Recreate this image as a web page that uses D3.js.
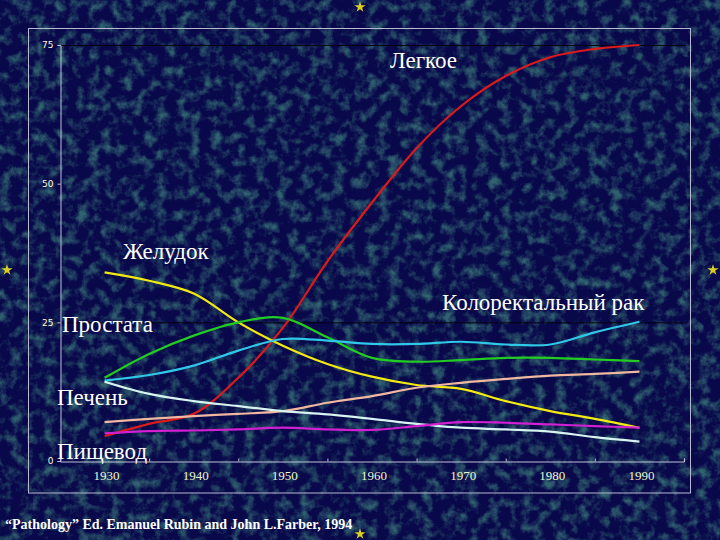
<!DOCTYPE html>
<html>
<head>
<meta charset="utf-8">
<script src="https://cdn.jsdelivr.net/npm/d3@7"></script>
<style>
html,body{margin:0;padding:0;background:#0a0a48;}
svg{display:block;}
</style>
</head>
<body>
<svg id="chart" width="720" height="540"></svg>
<script>
// ---- data ----
const years = [1930,1935,1940,1945,1950,1955,1960,1965,1970,1975,1980,1985,1990];
const tickYears = [1930,1940,1950,1960,1970,1980,1990];
const yTicks = [0,25,50,75];
const lung      = [4.5,6.7,8.5,15,24,36,46.6,56.4,64,69.4,72.8,74.3,75];
const stomach   = [34,32.5,30.2,25,20.8,17.5,15.2,13.7,13,10.8,9,7.6,6];
const prostate  = [15,19.3,22.6,25,25.8,22.3,18.6,17.9,18.2,18.6,18.6,18.3,18];
const colorectal= [14.5,15.5,17.2,19.9,22,21.7,21.1,21.1,21.5,21,21,23.2,25.1];
const pancreas  = [7,7.6,8.1,8.5,9,10.5,11.7,13.2,14.1,14.8,15.4,15.7,16.1];
const liver     = [14.3,12.1,10.8,9.9,9,8.4,7.6,6.7,6,5.7,5.3,4.3,3.5];
const esophagus = [5,5.4,5.5,5.7,6,5.7,5.6,6.3,7,6.9,6.6,6.3,6];
const seriesNames = ["Легкое","Желудок","Простата","Колоректальный рак","Поджелудочная","Печень","Пищевод"];
const seriesData  = [lung,stomach,prostate,colorectal,pancreas,liver,esophagus];
const seriesColors= ["#dd1a1a","#f2ea10","#22cc22","#30c8e8","#f0b8a0","#d8f4f0","#d020d0"];
const labels = [
  {text:"Легкое", x:390, y:68},
  {text:"Желудок", x:123, y:259},
  {text:"Колоректальный рак", x:442, y:310},
  {text:"Простата", x:62, y:332},
  {text:"Печень", x:57, y:405},
  {text:"Пищевод", x:57, y:459}
];
const footnote = "“Pathology” Ed. Emanuel Rubin and John L.Farber, 1994";

// ---- drawing ----
const svg = d3.select("#chart");
const defs = svg.append("defs");
const f = defs.append("filter").attr("id","tex").attr("x",0).attr("y",0).attr("width","100%").attr("height","100%");
f.append("feTurbulence").attr("type","fractalNoise").attr("baseFrequency","0.09").attr("numOctaves",5).attr("seed",7).attr("result","n");
f.append("feColorMatrix").attr("in","n").attr("type","matrix")
 .attr("values","0 0 0 0 0.10  0 0 0 0 0.50  0 0 0 0 0.30  0 2.6 0 0 -1.15");

svg.append("rect").attr("width",720).attr("height",540).attr("fill","#08084a");
svg.append("rect").attr("width",720).attr("height",540).attr("filter","url(#tex)").attr("opacity",0.5);

// frame
svg.append("rect").attr("x",28.5).attr("y",28.5).attr("width",662).attr("height",464.5)
  .attr("fill","none").attr("stroke","#b8b8d0").attr("stroke-width",1);

const x = d3.scaleLinear().domain([1925,1995]).range([60,684]);
const y = d3.scaleLinear().domain([0,75]).range([461,45]);

// gridlines (25 and 75)
svg.selectAll(".grid").data([25,75]).join("line")
  .attr("x1",60).attr("x2",686).attr("y1",d=>y(d)+0.5).attr("y2",d=>y(d)+0.5)
  .attr("stroke","#050510").attr("stroke-width",1);

// y axis
const yAxis = d3.axisLeft(y).tickValues(yTicks).tickSize(3).tickPadding(4);
const gy = svg.append("g").attr("transform","translate(60.5,0)").call(yAxis);
gy.select(".domain").attr("stroke","#c0c0d8");
gy.selectAll(".tick line").attr("stroke","#c0c0d8");
gy.selectAll(".tick text").attr("fill","#ffffd8").attr("font-family","DejaVu Sans, Verdana, sans-serif").attr("font-size",9);

// x axis
const xAxis = d3.axisBottom(x).tickValues(d3.range(1925,1996,10)).tickSize(-3).tickFormat("");
const gx = svg.append("g").attr("transform","translate(0,461.5)").call(xAxis);
gx.select(".domain").attr("stroke","#c0c0d8");
gx.selectAll(".tick line").attr("stroke","#c0c0d8");
svg.selectAll(".xl").data(tickYears).join("text")
  .attr("x",d=>x(d)+2).attr("y",480).attr("text-anchor","middle")
  .attr("fill","#ecf8d0").attr("font-family","Liberation Serif, Times New Roman, serif")
  .attr("font-size",13).text(d=>d);

// lines
const line = d3.line().x((d,i)=>x(years[i])).y(d=>y(d)).curve(d3.curveCatmullRom.alpha(0.5));
svg.selectAll(".series").data(seriesData).join("path")
  .attr("d",line).attr("fill","none")
  .attr("stroke",(d,i)=>seriesColors[i]).attr("stroke-width",2.2);

// labels
svg.selectAll(".lbl").data(labels).join("text")
  .attr("x",d=>d.x).attr("y",d=>d.y).text(d=>d.text)
  .attr("fill","#ffffff").attr("font-family","Liberation Serif, Times New Roman, serif").attr("font-size",23);

// footnote
svg.append("text").attr("x",5).attr("y",529).text(footnote)
  .attr("fill","#ffffff").attr("font-family","Liberation Serif, Times New Roman, serif")
  .attr("font-weight","bold").attr("font-size",14);

// stars
const star = d3.symbol().type(d3.symbolStar).size(38);
svg.selectAll(".star").data([[360,7],[7,270],[713,270],[360,534]]).join("path")
  .attr("d",star).attr("transform",d=>`translate(${d[0]},${d[1]})`).attr("fill","#d8d020");
</script>
</body>
</html>
